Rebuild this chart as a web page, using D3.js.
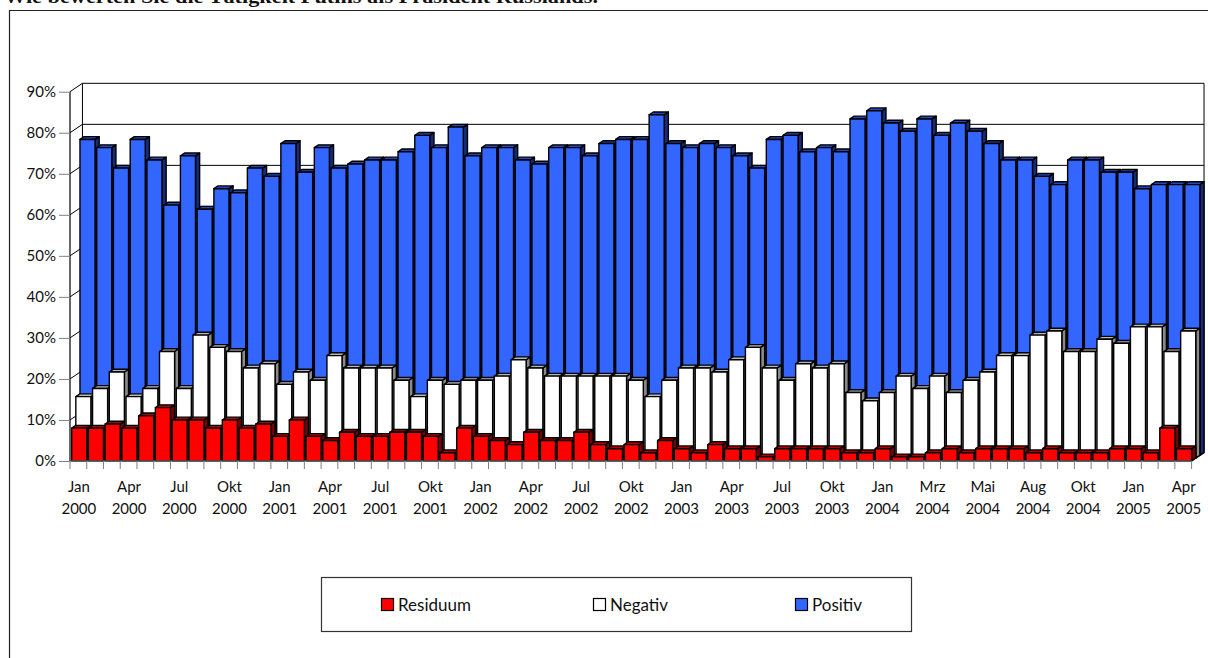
<!DOCTYPE html>
<html><head><meta charset="utf-8">
<script src="https://cdn.jsdelivr.net/npm/d3@7"></script>
<style>
html,body{margin:0;padding:0;background:#fff;overflow:hidden}
svg{display:block}
text{font-family:Lato,"Open Sans",sans-serif;fill:#111}
</style></head>
<body>
<svg id="chart" width="1208" height="658"></svg>
<script>
// ---- data ----
const title = "Wie bewerten Sie die Tätigkeit Putins als Präsident Russlands.";
const seriesNames = ["Residuum", "Negativ", "Positiv"];
const residuum = [8,8,9,8,11,13,10,10,8,10,8,9,6,10,6,5,7,6,6,7,7,6,2,8,6,5,4,7,5,5,7,4,3,4,2,5,3,2,4,3,3,1,3,3,3,3,2,2,3,1,1,2,3,2,3,3,3,2,3,2,2,2,3,3,2,8,3];
const negativ  = [15,17,21,15,17,26,17,30,27,26,22,23,18,21,19,25,22,22,22,19,15,19,18,19,19,20,24,22,20,20,20,20,20,19,15,19,22,22,21,24,27,22,19,23,22,23,16,14,16,20,17,20,16,19,21,25,25,30,31,26,26,29,28,32,32,26,31];
const positiv  = [77,75,70,77,72,61,73,60,65,64,70,68,76,69,75,70,71,72,72,74,78,75,80,73,75,75,72,71,75,75,73,76,77,77,83,76,75,76,75,73,70,77,78,74,75,74,82,84,81,79,82,78,81,79,76,72,72,68,66,72,72,69,69,65,66,66,66];
const tickLabels = ["Jan 2000","Apr 2000","Jul 2000","Okt 2000","Jan 2001","Apr 2001","Jul 2001","Okt 2001","Jan 2002","Apr 2002","Jul 2002","Okt 2002","Jan 2003","Apr 2003","Jul 2003","Okt 2003","Jan 2004","Mrz 2004","Mai 2004","Aug 2004","Okt 2004","Jan 2005","Apr 2005"];
const yTicks = [0,10,20,30,40,50,60,70,80,90];
const categories = d3.range(residuum.length);
const labelEvery = 3;

// ---- styles ----
const colors = {
  Residuum: {front:"#FF0000", top:"#B00000", side:"#7A0000"},
  Negativ:  {front:"#FFFFFF", top:"#B8B8B8", side:"#8A8A8A"},
  Positiv:  {front:"#3366FF", top:"#2346B8", side:"#162C7A"}
};

const svg = d3.select("#chart");
svg.append("rect").attr("width",1208).attr("height",658).attr("fill","#fff");

// title (clipped at top of page, as in the reference)
svg.append("text").attr("x",4).attr("y",3)
  .attr("textLength",594).attr("lengthAdjust","spacingAndGlyphs")
  .style("font-family","'Liberation Serif',serif").style("font-weight","bold").style("font-size","19px")
  .text(title);

// outer frame
svg.append("path").attr("d","M9.5,658 V10.5 H1208").attr("fill","none").attr("stroke","#222").attr("stroke-width",1.2);

// ---- scales ----
const x0 = 70, x1 = 70 + 16.74*categories.length;
const x = d3.scaleBand().domain(categories).range([x0, x1]).paddingInner(0).paddingOuter(0);
const y = d3.scaleLinear().domain([0, 90]).range([461, 91.7]);
const rowDx = 4.15, rowDy = -2.8;       // depth step per series row
const wallDx = rowDx*3, wallDy = rowDy*3;

const g = svg.append("g");

// back wall gridlines + left wall
const wall = g.append("g").attr("stroke","#000").attr("stroke-width",1).attr("fill","none");
yTicks.forEach(v => {
  const yy = y(v);
  wall.append("line").attr("x1",x0).attr("y1",yy).attr("x2",x0+wallDx).attr("y2",yy+wallDy);
  wall.append("line").attr("x1",x0+wallDx).attr("y1",yy+wallDy).attr("x2",x1+wallDx).attr("y2",yy+wallDy);
});
wall.append("line").attr("x1",x0+wallDx).attr("y1",y(90)+wallDy).attr("x2",x0+wallDx).attr("y2",y(0)+wallDy);
wall.append("line").attr("x1",x1+wallDx).attr("y1",y(90)+wallDy).attr("x2",x1+wallDx).attr("y2",y(0)+wallDy);
wall.append("line").attr("x1",x1).attr("y1",y(0)).attr("x2",x1+wallDx).attr("y2",y(0)+wallDy);

// ---- bars (back row first, left to right) ----
const rows = [
  {name:"Positiv", values:positiv, k:2},
  {name:"Negativ", values:negativ, k:1},
  {name:"Residuum", values:residuum, k:0}
];
const bw = x.bandwidth()*0.9, boff = x.bandwidth()*0.1;
const bdx = rowDx, bdy = rowDy;
rows.forEach(r => {
  const c = colors[r.name];
  const rg = g.append("g").attr("stroke","#000").attr("stroke-width",1.4).attr("stroke-linejoin","round");
  categories.forEach(i => {
    const v = r.values[i];
    const bx = x(i) + boff + r.k*rowDx;
    const by = y(v) + r.k*rowDy;
    const bb = y(0) + r.k*rowDy;
    const h = bb - by;
    const bg = rg.append("g");
    bg.append("path").attr("fill",c.side)
      .attr("d",`M${bx+bw},${by} L${bx+bw+bdx},${by+bdy} L${bx+bw+bdx},${bb+bdy} L${bx+bw},${bb} Z`);
    bg.append("path").attr("fill",c.top)
      .attr("d",`M${bx},${by} L${bx+bdx},${by+bdy} L${bx+bw+bdx},${by+bdy} L${bx+bw},${by} Z`);
    bg.append("rect").attr("x",bx).attr("y",by).attr("width",bw).attr("height",h).attr("fill",c.front);
  });
});

// ---- axes ----
g.append("line").attr("x1",x0).attr("y1",y(90)).attr("x2",x0).attr("y2",y(0)).attr("stroke","#000").attr("stroke-width",1.2);
const yAxis = d3.axisLeft(y).tickValues(yTicks).tickSize(11).tickPadding(3).tickFormat(d => d + "%");
const ya = g.append("g").attr("transform",`translate(${x0},0)`).call(yAxis);
ya.select(".domain").remove();
ya.selectAll(".tick line").attr("stroke","#808080");
ya.selectAll(".tick text").style("font-size","15px").style("font-family","Lato,sans-serif").attr("fill","#111");

g.append("line").attr("x1",x0).attr("y1",y(0)).attr("x2",x1).attr("y2",y(0)).attr("stroke","#808080").attr("stroke-width",1);
const bounds = categories.map(i => x(i)).concat([x1]);
g.append("g").selectAll("line").data(bounds).join("line")
  .attr("x1",d=>d).attr("x2",d=>d).attr("y1",y(0)).attr("y2",y(0)+8)
  .attr("stroke","#808080").attr("stroke-width",1);
const lab = g.append("g").style("font-size","15px").attr("text-anchor","middle");
tickLabels.forEach((t,j) => {
  const i = j*labelEvery;
  const cx = x(i) + x.bandwidth()/2 + 0.5;
  const parts = t.split(" ");
  const tx = lab.append("text").attr("x",cx).attr("y",492);
  tx.append("tspan").attr("x",cx).attr("y",492).text(parts[0]);
  tx.append("tspan").attr("x",cx).attr("y",514).text(parts[1]);
});

// ---- legend ----
const lg = svg.append("g");
lg.append("rect").attr("x",321.5).attr("y",577.5).attr("width",590).attr("height",54)
  .attr("fill","#fff").attr("stroke","#333").attr("stroke-width",1.2);
const legendX = [381, 593, 795];
seriesNames.forEach((n,i) => {
  lg.append("rect").attr("x",legendX[i]+0.5).attr("y",598.5).attr("width",12).attr("height",12)
    .attr("fill",colors[n].front).attr("stroke","#000").attr("stroke-width",1.2);
  lg.append("text").attr("x",legendX[i]+17).attr("y",604.5).attr("dominant-baseline","central")
    .style("font-size","17px").text(n);
});
</script>
</body></html>
